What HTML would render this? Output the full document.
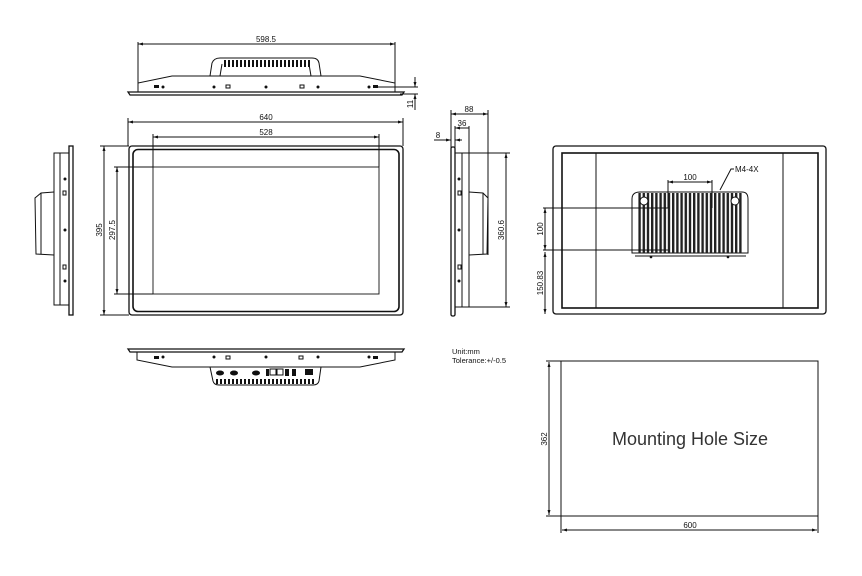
<!DOCTYPE html>
<html><head><meta charset="utf-8"><style>
html,body{margin:0;padding:0;background:#fff;}
svg{display:block}
text{font-family:"Liberation Sans",sans-serif;fill:#111;}
</style></head><body>
<svg width="862" height="576" viewBox="0 0 862 576" xmlns="http://www.w3.org/2000/svg">
<defs>
<pattern id="finsV" x="0" y="0" width="4" height="10" patternUnits="userSpaceOnUse"><rect x="0" y="0" width="2" height="10" fill="#111"/></pattern>
<pattern id="finsV2" x="0" y="0" width="4.2" height="10" patternUnits="userSpaceOnUse"><rect x="0" y="0" width="2.4" height="10" fill="#222"/></pattern>
<marker id="a" viewBox="0 0 10 10" refX="10" refY="5" markerWidth="5" markerHeight="5" orient="auto-start-reverse"><path d="M0,2 L10,5 L0,8z" fill="#111"/></marker>
</defs>
<g stroke="#111" fill="none" stroke-width="1">

<!-- TOP VIEW -->
<line x1="138" y1="44" x2="395" y2="44" marker-start="url(#a)" marker-end="url(#a)"/>
<line x1="138" y1="42" x2="138" y2="92"/><line x1="395" y1="42" x2="395" y2="92"/>
<path d="M128,92 L404,92 L402,95 L130,95z" stroke-width="1.3"/>
<path d="M138,92 L138,83 L172,76 L360,76 L395,83 L395,92"/>
<path d="M210,76 L212,63 Q214,58 220,58 L312,58 Q318,58 319,63 L321,76"/>
<path d="M220,76 L222,64 M311,76 L309,64"/>
<rect x="222" y="60" width="88" height="7" fill="url(#finsV)" stroke="none"/>
<g fill="#111" stroke="none">
<circle cx="163" cy="87" r="1.5"/><circle cx="214" cy="87" r="1.5"/><circle cx="266" cy="87" r="1.5"/><circle cx="318" cy="87" r="1.5"/><circle cx="369" cy="87" r="1.5"/>
<rect x="154" y="85" width="5" height="3"/><rect x="373" y="85" width="5" height="3"/></g>
<rect x="226" y="85" width="4" height="3"/><rect x="300" y="85" width="4" height="3"/>
<line x1="375" y1="87" x2="418" y2="87"/><line x1="400" y1="94" x2="418" y2="94"/>
<line x1="415" y1="77" x2="415" y2="87" marker-end="url(#a)"/><line x1="415" y1="110" x2="415" y2="94" marker-end="url(#a)"/>

<!-- FRONT VIEW -->
<line x1="128" y1="122" x2="403" y2="122" marker-start="url(#a)" marker-end="url(#a)"/>
<line x1="128" y1="118" x2="128" y2="146"/><line x1="403" y1="118" x2="403" y2="146"/>
<line x1="153" y1="137" x2="379" y2="137" marker-start="url(#a)" marker-end="url(#a)"/>
<line x1="153" y1="134" x2="153" y2="167"/><line x1="379" y1="134" x2="379" y2="167"/>
<rect x="129" y="146" width="274" height="169" rx="3" stroke-width="1.3"/>
<rect x="133" y="149.5" width="266" height="162" rx="5" stroke-width="1.6"/>
<rect x="153" y="167" width="226" height="127" stroke-width="0.9"/>
<line x1="104" y1="146" x2="104" y2="315" marker-start="url(#a)" marker-end="url(#a)"/>
<line x1="100" y1="146" x2="129" y2="146"/><line x1="100" y1="315" x2="129" y2="315"/>
<line x1="117" y1="167" x2="117" y2="294" marker-start="url(#a)" marker-end="url(#a)"/>
<line x1="114" y1="167" x2="153" y2="167"/><line x1="114" y1="294" x2="153" y2="294"/>

<!-- LEFT SIDE VIEW -->
<rect x="69" y="146" width="4" height="169" stroke-width="1.3"/>
<rect x="54" y="153" width="15" height="152"/>
<line x1="60" y1="153" x2="60" y2="305"/>
<path d="M54,192 L41,193 L35,198 L36,254 L54,255"/>
<line x1="41" y1="193" x2="41" y2="254"/>
<g fill="#111" stroke="none"><circle cx="65" cy="179" r="1.5"/><circle cx="65" cy="230" r="1.5"/><circle cx="65" cy="281" r="1.5"/></g>
<rect x="63" y="191" width="3" height="4"/><rect x="63" y="265" width="3" height="4"/>

<!-- BOTTOM VIEW -->
<path d="M128,349 L404,349 L402,352 L130,352z" stroke-width="1.3"/>
<path d="M137,352 L137,360 L172,367 L360,367 L395,360 L395,352"/>
<path d="M210,367 L213,381 Q214,385 219,385 L313,385 Q318,385 319,381 L321,367"/>
<rect x="216" y="379" width="100" height="5" fill="url(#finsV)" stroke="none"/>
<g fill="#111" stroke="none">
<circle cx="163" cy="357" r="1.5"/><circle cx="214" cy="357" r="1.5"/><circle cx="266" cy="357" r="1.5"/><circle cx="318" cy="357" r="1.5"/><circle cx="369" cy="357" r="1.5"/>
<rect x="154" y="356" width="5" height="3"/><rect x="373" y="356" width="5" height="3"/>
<ellipse cx="220" cy="373" rx="4" ry="2.5"/><ellipse cx="234" cy="373" rx="4" ry="2.5"/><ellipse cx="256" cy="373" rx="4" ry="2.5"/>
<rect x="266" y="369" width="3" height="7"/><rect x="285" y="369" width="4" height="7"/><rect x="292" y="369" width="4" height="7"/><rect x="305" y="369" width="8" height="6"/>
</g>
<rect x="226" y="356" width="4" height="3"/><rect x="299" y="356" width="4" height="3"/>
<rect x="270" y="369" width="6" height="6"/><rect x="277" y="369" width="6" height="6"/>

<!-- RIGHT SIDE VIEW -->
<line x1="451" y1="114" x2="488" y2="114" marker-start="url(#a)" marker-end="url(#a)"/>
<line x1="451" y1="110" x2="451" y2="148"/><line x1="488" y1="110" x2="488" y2="255"/>
<line x1="455" y1="128" x2="469" y2="128" marker-start="url(#a)"/>
<line x1="455" y1="126" x2="455" y2="148"/><line x1="469" y1="126" x2="469" y2="153"/>
<line x1="434" y1="140" x2="451" y2="140" marker-end="url(#a)"/><line x1="462" y1="140" x2="455" y2="140" marker-end="url(#a)"/>
<rect x="451" y="147" width="4" height="169" rx="1.5" stroke-width="1.3"/>
<rect x="455" y="153" width="14" height="154"/>
<line x1="462" y1="153" x2="462" y2="307"/>
<path d="M469,192 L483,193 L488,198 L487,254 L469,255"/>
<line x1="483" y1="193" x2="483" y2="254"/>
<g fill="#111" stroke="none"><circle cx="459" cy="179" r="1.5"/><circle cx="459" cy="230" r="1.5"/><circle cx="459" cy="281" r="1.5"/></g>
<rect x="458" y="191" width="3" height="4"/><rect x="458" y="265" width="3" height="4"/>
<line x1="469" y1="153" x2="510" y2="153"/><line x1="469" y1="307" x2="510" y2="307"/>
<line x1="506" y1="153" x2="506" y2="307" marker-start="url(#a)" marker-end="url(#a)"/>

<!-- REAR VIEW -->
<rect x="553" y="146" width="273" height="168" rx="3" stroke-width="1.3"/>
<rect x="562" y="153" width="256" height="155" stroke-width="1.6"/>
<line x1="596" y1="153" x2="596" y2="308"/><line x1="783" y1="153" x2="783" y2="308"/>
<path d="M632,253 L632,199 Q632,192 640,192 L742,192 Q748,192 748,199 L748,253z"/>
<rect x="638" y="193" width="104" height="60" fill="url(#finsV2)" stroke="none"/>
<circle cx="644" cy="201" r="4" fill="#fff"/><circle cx="735" cy="201" r="4" fill="#fff"/>
<line x1="635" y1="256" x2="746" y2="256"/>
<g fill="#111" stroke="none"><circle cx="651" cy="257" r="1.3"/><circle cx="728" cy="257" r="1.3"/></g>
<line x1="668" y1="182" x2="712" y2="182" marker-start="url(#a)" marker-end="url(#a)"/>
<line x1="668" y1="180" x2="668" y2="208"/><line x1="712" y1="180" x2="712" y2="208"/>
<path d="M720,190 L731,169 L734,169"/>
<line x1="543" y1="208" x2="668" y2="208"/><line x1="543" y1="250" x2="668" y2="250"/>
<line x1="545" y1="208" x2="545" y2="250" marker-start="url(#a)" marker-end="url(#a)"/>
<line x1="545" y1="252" x2="545" y2="314" marker-start="url(#a)" marker-end="url(#a)"/>

<!-- MOUNTING HOLE -->
<rect x="561" y="361" width="257" height="155"/>
<line x1="546" y1="361" x2="561" y2="361"/><line x1="546" y1="516" x2="561" y2="516"/>
<line x1="549" y1="362" x2="549" y2="515" marker-start="url(#a)" marker-end="url(#a)"/>
<line x1="561" y1="516" x2="561" y2="533"/><line x1="818" y1="516" x2="818" y2="533"/>
<line x1="562" y1="530" x2="817" y2="530" marker-start="url(#a)" marker-end="url(#a)"/>
</g>

<g font-size="8">
<text x="266" y="42" text-anchor="middle">598.5</text>
<text x="266" y="120" text-anchor="middle">640</text>
<text x="266" y="135" text-anchor="middle">528</text>
<text transform="translate(102,230) rotate(-90)" text-anchor="middle">395</text>
<text transform="translate(115,230) rotate(-90)" text-anchor="middle">297.5</text>
<text transform="translate(413,104) rotate(-90)" text-anchor="middle">11</text>
<text x="469" y="112" text-anchor="middle">88</text>
<text x="462" y="126" text-anchor="middle">36</text>
<text x="438" y="138" text-anchor="middle">8</text>
<text transform="translate(504,230) rotate(-90)" text-anchor="middle">360.6</text>
<text x="690" y="180" text-anchor="middle">100</text>
<text x="735" y="172">M4-4X</text>
<text transform="translate(543,229) rotate(-90)" text-anchor="middle">100</text>
<text transform="translate(543,283) rotate(-90)" text-anchor="middle">150.83</text>
<text transform="translate(547,439) rotate(-90)" text-anchor="middle">362</text>
<text x="690" y="528" text-anchor="middle">600</text>
<text x="452" y="354" font-size="7.5">Unit:mm</text>
<text x="452" y="363" font-size="7.5">Tolerance:+/-0.5</text>
</g>
<text x="690" y="445" text-anchor="middle" font-size="18" style="font-weight:300;fill:#333">Mounting Hole Size</text>
</svg>
</body></html>
